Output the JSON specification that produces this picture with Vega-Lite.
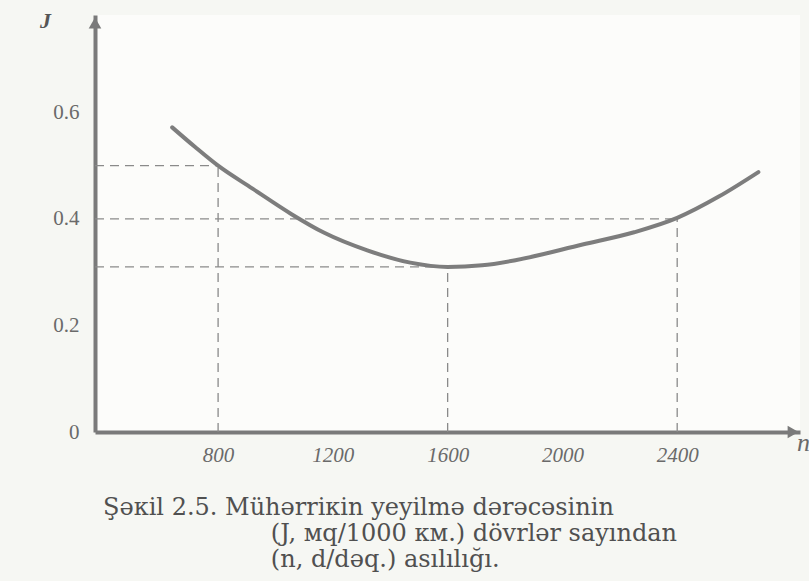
{
  "$schema": "https://vega.github.io/schema/vega-lite/v6.json",
  "width": 705,
  "height": 417,
  "autosize": "none",
  "padding": {"left": 95, "top": 15, "right": 9, "bottom": 149},
  "background": "#f6f7f3",
  "config": {"view": {"fill": "#fcfcfa", "stroke": null}, "title": {"font": "DejaVu Serif"}},
  "title": {
    "text": ["Şəкil 2.5. Mühərriкin yeyilmə dərəcəsinin", "\u200c\u00a0\u00a0\u00a0\u00a0\u00a0\u00a0\u00a0\u00a0\u00a0\u00a0\u00a0\u00a0\u00a0\u00a0\u00a0\u00a0\u00a0\u00a0\u00a0\u00a0\u00a0\u00a0(J, мq/1000 км.) dövrlər sayından", "\u200c\u00a0\u00a0\u00a0\u00a0\u00a0\u00a0\u00a0\u00a0\u00a0\u00a0\u00a0\u00a0\u00a0\u00a0\u00a0\u00a0\u00a0\u00a0\u00a0\u00a0\u00a0\u00a0(n, d/dəq.) asılılığı."],
    "orient": "bottom",
    "anchor": "start",
    "frame": "group",
    "dx": 8,
    "offset": 31,
    "font": "DejaVu Serif",
    "fontSize": 24,
    "fontWeight": "normal",
    "color": "#505050",
    "lineHeight": 26
  },
  "datasets": {
    "curve": [
      {"n": 640, "J": 0.572},
      {"n": 720, "J": 0.535},
      {"n": 800, "J": 0.5},
      {"n": 920, "J": 0.457},
      {"n": 1056, "J": 0.409},
      {"n": 1170, "J": 0.374},
      {"n": 1320, "J": 0.341},
      {"n": 1470, "J": 0.318},
      {"n": 1600, "J": 0.31},
      {"n": 1720, "J": 0.313},
      {"n": 1840, "J": 0.323},
      {"n": 2070, "J": 0.352},
      {"n": 2250, "J": 0.375},
      {"n": 2400, "J": 0.402},
      {"n": 2545, "J": 0.442},
      {"n": 2683, "J": 0.488}
    ],
    "guides": [
      {"n": 371, "n2": 800, "J": 0.5, "J2": 0.5},
      {"n": 800, "n2": 800, "J": 0, "J2": 0.5},
      {"n": 371, "n2": 2400, "J": 0.4, "J2": 0.4},
      {"n": 2400, "n2": 2400, "J": 0, "J2": 0.4},
      {"n": 371, "n2": 1600, "J": 0.31, "J2": 0.31},
      {"n": 1600, "n2": 1600, "J": 0, "J2": 0.31}
    ],
    "arrows": [
      {"n": 371, "J": 0.768, "shape": "triangle-up"},
      {"n": 2804, "J": 0, "shape": "triangle-right"}
    ]
  },
  "layer": [
    {
      "data": {"name": "guides"},
      "mark": {"type": "rule", "strokeDash": [9, 6], "strokeWidth": 1.3, "color": "#8a8a8a"},
      "encoding": {
        "x": {"field": "n", "type": "quantitative"},
        "x2": {"field": "n2"},
        "y": {"field": "J", "type": "quantitative"},
        "y2": {"field": "J2"}
      }
    },
    {
      "data": {"name": "curve"},
      "mark": {"type": "line", "interpolate": "monotone", "strokeWidth": 4, "color": "#7d7d7d", "strokeCap": "round"},
      "encoding": {
        "x": {
          "field": "n", "type": "quantitative",
          "scale": {"domain": [371, 2828], "nice": false, "zero": false},
          "axis": {
            "values": [800, 1200, 1600, 2000, 2400], "format": "d",
            "grid": false, "ticks": false,
            "domainColor": "#7a7a7a", "domainWidth": 4,
            "labelFont": "Liberation Serif", "labelFontStyle": "italic", "labelFontSize": 21,
            "labelColor": "#6a6a6a", "labelPadding": 12,
            "title": "n", "titleFont": "Liberation Serif", "titleFontStyle": "italic", "titleFontWeight": "normal",
            "titleFontSize": 26, "titleColor": "#6a6a6a",
            "titleX": 708, "titleY": 10, "titleBaseline": "middle", "titleAlign": "center"
          }
        },
        "y": {
          "field": "J", "type": "quantitative",
          "scale": {"domain": [0, 0.783], "nice": false},
          "axis": {
            "values": [0, 0.2, 0.4, 0.6], "format": ".1~f",
            "grid": false, "ticks": false,
            "domainColor": "#7a7a7a", "domainWidth": 4,
            "labelFont": "Liberation Serif", "labelFontSize": 21,
            "labelColor": "#6a6a6a", "labelPadding": 16,
            "title": "J", "titleFont": "Liberation Serif", "titleFontStyle": "italic", "titleFontWeight": "bold",
            "titleFontSize": 22, "titleColor": "#555555",
            "titleAngle": 0, "titleX": -50, "titleY": 5, "titleBaseline": "middle", "titleAlign": "center"
          }
        }
      }
    },
    {
      "data": {"name": "arrows"},
      "mark": {"type": "point", "filled": true, "size": 160, "color": "#7a7a7a", "opacity": 1},
      "encoding": {
        "x": {"field": "n", "type": "quantitative"},
        "y": {"field": "J", "type": "quantitative"},
        "shape": {"field": "shape", "type": "nominal", "scale": null}
      }
    }
  ]
}
